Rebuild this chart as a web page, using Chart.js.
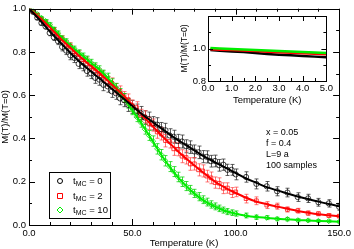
<!DOCTYPE html>
<html>
<head>
<meta charset="utf-8">
<script src="https://cdn.jsdelivr.net/npm/chart.js@4.4.1/dist/chart.umd.min.js"></script>
<style>
body { margin: 0; background: #fff; }
#wrap { position: relative; width: 354px; height: 249px; }
#main { position: absolute; left: 0; top: 0; }
#inset { position: absolute; left: 180px; top: 8px; }
</style>
</head>
<body>
<div id="wrap">
<canvas id="main" width="354" height="249"></canvas>
<canvas id="inset" width="155" height="98"></canvas>
</div>
<script>
// simulation points (temperature in K)
var temps = [0, 2, 4, 6, 8, 10, 12, 14, 16, 18, 20, 22, 24, 26, 28, 30, 32, 34, 36, 38, 40,
    42, 44, 46, 48, 50, 52, 54, 56, 58, 60, 62, 64, 66, 68, 70, 72, 74, 76, 78, 80,
    82, 84, 86, 88, 90, 92, 94, 96, 98, 100, 105, 110, 115, 120, 125, 130, 135, 140, 145, 150];

var mcZero = [1.0, 0.985, 0.958, 0.934, 0.918, 0.888, 0.868, 0.85, 0.823, 0.806, 0.784,
    0.772, 0.745, 0.735, 0.712, 0.701, 0.68, 0.672, 0.648, 0.641, 0.618,
    0.609, 0.585, 0.577, 0.555, 0.546, 0.528, 0.518, 0.497, 0.49, 0.47,
    0.464, 0.443, 0.438, 0.414, 0.408, 0.388, 0.386, 0.364, 0.36, 0.34,
    0.336, 0.316, 0.315, 0.295, 0.296, 0.276, 0.279, 0.255, 0.255, 0.234,
    0.222, 0.19, 0.179, 0.156, 0.15, 0.129, 0.123, 0.105, 0.1, 0.084];
var errZero = [0.002, 0.006, 0.008, 0.01, 0.012, 0.013, 0.015, 0.016, 0.018, 0.018, 0.02,
    0.021, 0.022, 0.022, 0.024, 0.024, 0.025, 0.026, 0.027, 0.027, 0.028,
    0.028, 0.029, 0.03, 0.03, 0.03, 0.031, 0.03, 0.031, 0.032, 0.031,
    0.032, 0.031, 0.032, 0.031, 0.03, 0.031, 0.03, 0.03, 0.029, 0.03,
    0.029, 0.028, 0.028, 0.027, 0.027, 0.027, 0.026, 0.026, 0.025, 0.025,
    0.024, 0.023, 0.022, 0.021, 0.02, 0.02, 0.019, 0.018, 0.017, 0.016];

var mcTwo = [1.0, 0.987, 0.97, 0.95, 0.934, 0.912, 0.9, 0.872, 0.86, 0.836, 0.826,
    0.8, 0.787, 0.764, 0.757, 0.73, 0.722, 0.7, 0.69, 0.664, 0.656,
    0.63, 0.618, 0.592, 0.58, 0.552, 0.543, 0.508, 0.5, 0.47, 0.462,
    0.43, 0.422, 0.39, 0.386, 0.352, 0.35, 0.318, 0.312, 0.282, 0.283,
    0.255, 0.25, 0.226, 0.218, 0.196, 0.193, 0.17, 0.171, 0.15, 0.153,
    0.122, 0.112, 0.092, 0.087, 0.072, 0.066, 0.055, 0.052, 0.044, 0.041];
var errTwo = [0.002, 0.005, 0.007, 0.009, 0.01, 0.012, 0.013, 0.014, 0.015, 0.016, 0.017,
    0.018, 0.019, 0.02, 0.02, 0.021, 0.022, 0.022, 0.023, 0.023, 0.024,
    0.024, 0.025, 0.025, 0.026, 0.026, 0.027, 0.027, 0.028, 0.028, 0.028,
    0.029, 0.029, 0.029, 0.03, 0.03, 0.03, 0.03, 0.03, 0.029, 0.029,
    0.028, 0.028, 0.027, 0.027, 0.026, 0.025, 0.025, 0.024, 0.023, 0.022,
    0.02, 0.018, 0.016, 0.014, 0.012, 0.011, 0.01, 0.009, 0.008, 0.007];

var mcTen = [1.0, 0.99, 0.975, 0.958, 0.943, 0.927, 0.905, 0.887, 0.864, 0.85, 0.828,
    0.815, 0.797, 0.782, 0.767, 0.752, 0.735, 0.72, 0.7, 0.685, 0.658,
    0.637, 0.612, 0.588, 0.56, 0.531, 0.5, 0.474, 0.443, 0.414, 0.388,
    0.352, 0.325, 0.297, 0.27, 0.247, 0.222, 0.2, 0.18, 0.163, 0.146,
    0.131, 0.117, 0.106, 0.095, 0.086, 0.077, 0.069, 0.062, 0.057, 0.053,
    0.044, 0.036, 0.034, 0.028, 0.027, 0.022, 0.021, 0.019, 0.018, 0.015];
var errTen = [0.002, 0.004, 0.005, 0.006, 0.007, 0.008, 0.009, 0.01, 0.01, 0.011, 0.012,
    0.012, 0.013, 0.013, 0.014, 0.014, 0.015, 0.016, 0.016, 0.017, 0.018,
    0.018, 0.019, 0.02, 0.02, 0.021, 0.022, 0.022, 0.023, 0.023, 0.024,
    0.024, 0.024, 0.024, 0.023, 0.023, 0.022, 0.022, 0.021, 0.02, 0.019,
    0.019, 0.018, 0.018, 0.017, 0.016, 0.015, 0.014, 0.014, 0.013, 0.012,
    0.011, 0.01, 0.009, 0.008, 0.008, 0.007, 0.006, 0.006, 0.005, 0.005];

// fitted curves
var fitTemps = [0, 5, 10, 15, 20, 25, 30, 35, 40, 45, 50, 55, 60, 65, 70, 75, 80,
    85, 90, 95, 100, 105, 110, 115, 120, 125, 130, 135, 140, 145, 150];
var fitZero = [1.0, 0.95, 0.895, 0.845, 0.795, 0.75, 0.71, 0.67, 0.63, 0.59, 0.55, 0.51, 0.475,
    0.44, 0.405, 0.375, 0.345, 0.315, 0.29, 0.265, 0.24, 0.215, 0.195, 0.175, 0.16,
    0.146, 0.132, 0.12, 0.108, 0.097, 0.087];
var fitTwo = [1.0, 0.96, 0.915, 0.865, 0.82, 0.775, 0.735, 0.695, 0.65, 0.605, 0.555, 0.505, 0.455,
    0.405, 0.36, 0.315, 0.275, 0.237, 0.2, 0.172, 0.148, 0.126, 0.108, 0.096, 0.085,
    0.075, 0.065, 0.057, 0.05, 0.045, 0.04];
var fitTen = [1.0, 0.965, 0.925, 0.875, 0.83, 0.79, 0.75, 0.71, 0.66, 0.6, 0.53, 0.46, 0.385,
    0.31, 0.245, 0.19, 0.145, 0.11, 0.085, 0.065, 0.052, 0.043, 0.037, 0.033, 0.029,
    0.026, 0.023, 0.021, 0.019, 0.017, 0.015];

// inset: low temperature part
var lowTemps = [0.1, 0.5, 1.0, 1.5, 2.0, 2.5, 3.0, 3.5, 4.0, 4.5, 5.0];
var lowZero = [0.99, 0.986, 0.982, 0.978, 0.973, 0.966, 0.962, 0.958, 0.954, 0.95, 0.946];
var lowTwo = [0.996, 0.993, 0.99, 0.987, 0.984, 0.98, 0.977, 0.974, 0.97, 0.967, 0.964];
var lowTen = [1.003, 1.0, 0.997, 0.994, 0.991, 0.988, 0.985, 0.982, 0.979, 0.976, 0.972];

var legendLabels = ['0', '2', '10'];
var notes = ['x = 0.05', 'f = 0.4', 'L=9 a', '100 samples'];

var FONT = "'Liberation Sans', Arial, sans-serif";

function pairs(xs, ys) {
    return xs.map(function (x, i) { return { x: x, y: ys[i] }; });
}

function pointSet(label, ys, errs, color, barColor, style) {
    return {
        label: label,
        data: pairs(temps, ys),
        errors: errs,
        barColor: barColor,
        showLine: false,
        pointStyle: style,
        pointRadius: 2.6,
        pointBorderWidth: 1,
        pointBorderColor: color,
        pointBackgroundColor: 'rgba(0,0,0,0)',
        order: 2
    };
}

function fitSet(ys, color) {
    return {
        data: pairs(fitTemps, ys),
        showLine: true,
        borderColor: color,
        borderWidth: 2,
        pointRadius: 0,
        cubicInterpolationMode: 'monotone',
        order: 1
    };
}

// error bars drawn under the markers
var errorBars = {
    id: 'errorBars',
    beforeDatasetsDraw: function (chart) {
        var ctx = chart.ctx, xs = chart.scales.x, ys = chart.scales.y, a = chart.chartArea;
        ctx.save();
        ctx.beginPath();
        ctx.rect(a.left, a.top, a.right - a.left, a.bottom - a.top);
        ctx.clip();
        ctx.lineWidth = 1;
        chart.data.datasets.forEach(function (ds) {
            if (!ds.errors) return;
            ctx.strokeStyle = ds.barColor;
            ctx.beginPath();
            ds.data.forEach(function (p, i) {
                var px = Math.round(xs.getPixelForValue(p.x)) + 0.5;
                var top = ys.getPixelForValue(p.y + ds.errors[i]);
                var bot = ys.getPixelForValue(p.y - ds.errors[i]);
                ctx.moveTo(px, top); ctx.lineTo(px, bot);
                ctx.moveTo(px - 2, top); ctx.lineTo(px + 2, top);
                ctx.moveTo(px - 2, bot); ctx.lineTo(px + 2, bot);
            });
            ctx.stroke();
        });
        ctx.restore();
    }
};

// box with inward ticks on all four sides
function isMajor(v, step) {
    return Math.abs(v / step - Math.round(v / step)) < 1e-6;
}

var frame = {
    id: 'frame',
    afterDatasetsDraw: function (chart, args, opts) {
        var ctx = chart.ctx, a = chart.chartArea;
        var xs = chart.scales.x, ys = chart.scales.y;
        ctx.save();
        ctx.strokeStyle = '#000';
        ctx.lineWidth = 1;
        ctx.strokeRect(Math.round(a.left) + 0.5, Math.round(a.top) + 0.5,
            Math.round(a.right - a.left), Math.round(a.bottom - a.top));
        ctx.beginPath();
        xs.ticks.forEach(function (t) {
            var px = Math.round(xs.getPixelForValue(t.value)) + 0.5;
            var len = isMajor(t.value, opts.xMajor) ? opts.major : opts.minor;
            ctx.moveTo(px, a.bottom); ctx.lineTo(px, a.bottom - len);
            ctx.moveTo(px, a.top); ctx.lineTo(px, a.top + len);
        });
        ys.ticks.forEach(function (t) {
            var py = Math.round(ys.getPixelForValue(t.value)) + 0.5;
            var len = isMajor(t.value, opts.yMajor) ? opts.major : opts.minor;
            ctx.moveTo(a.left, py); ctx.lineTo(a.left + len, py);
            ctx.moveTo(a.right, py); ctx.lineTo(a.right - len, py);
        });
        ctx.stroke();
        ctx.restore();
    }
};

// legend box and the parameter notes
var extras = {
    id: 'extras',
    afterDraw: function (chart) {
        var ctx = chart.ctx;
        ctx.save();
        ctx.fillStyle = '#fff';
        ctx.fillRect(49, 172, 61, 46);
        ctx.strokeStyle = '#000';
        ctx.lineWidth = 1;
        ctx.strokeRect(49.5, 172.5, 61, 46);
        var rows = [181, 196, 210];
        var colors = ['#000', '#ff0000', '#00ee00'];
        ctx.lineWidth = 1;
        rows.forEach(function (y, i) {
            ctx.strokeStyle = colors[i];
            ctx.beginPath();
            if (i === 0) {
                ctx.arc(60, y, 2.5, 0, Math.PI * 2);
            } else if (i === 1) {
                ctx.rect(57.5, y - 2.5, 5, 5);
            } else {
                ctx.moveTo(60, y - 3); ctx.lineTo(63, y); ctx.lineTo(60, y + 3); ctx.lineTo(57, y); ctx.closePath();
            }
            ctx.stroke();
            ctx.fillStyle = '#000';
            ctx.textBaseline = 'middle';
            ctx.textAlign = 'left';
            ctx.font = '9.5px ' + FONT;
            ctx.fillText('t', 73, y);
            var x = 73 + ctx.measureText('t').width;
            ctx.font = '7px ' + FONT;
            ctx.fillText('MC', x, y + 3);
            x += ctx.measureText('MC').width;
            ctx.font = '9.5px ' + FONT;
            ctx.fillText(' = ' + legendLabels[i], x, y);
        });
        ctx.font = '9px ' + FONT;
        notes.forEach(function (s, i) {
            ctx.fillText(s, 266, 133 + i * 11);
        });
        ctx.restore();
    }
};

new Chart(document.getElementById('main').getContext('2d'), {
    type: 'scatter',
    data: {
        datasets: [
            fitSet(fitZero, '#000'),
            fitSet(fitTwo, '#ff0000'),
            fitSet(fitTen, '#00ee00'),
            pointSet('tMC = 0', mcZero, errZero, 'rgba(0,0,0,0.75)', 'rgba(40,40,40,0.75)', 'circle'),
            pointSet('tMC = 2', mcTwo, errTwo, 'rgba(255,0,0,0.75)', 'rgba(255,60,60,0.7)', 'rect'),
            pointSet('tMC = 10', mcTen, errTen, 'rgba(0,220,0,0.8)', 'rgba(0,210,0,0.75)', 'rectRot')
        ]
    },
    options: {
        responsive: false,
        animation: false,
        devicePixelRatio: 1,
        layout: { padding: { top: 5, right: 13, left: 0, bottom: 0 } },
        plugins: {
            legend: { display: false },
            tooltip: { enabled: false },
            frame: { xMajor: 50, yMajor: 0.2, major: 6, minor: 3 }
        },
        scales: {
            x: {
                type: 'linear', min: 0, max: 150,
                afterFit: function (s) { s.height = 24; },
                grid: { display: false, drawTicks: false },
                border: { display: false },
                ticks: {
                    stepSize: 10, autoSkip: false, maxRotation: 0, padding: 3,
                    color: '#000', font: { family: FONT, size: 9.5 },
                    callback: function (v) { return isMajor(v, 50) ? v.toFixed(1) : ''; }
                },
                title: { display: true, text: 'Temperature (K)', color: '#000', padding: 0, font: { family: FONT, size: 9.5 } }
            },
            y: {
                type: 'linear', min: 0, max: 1,
                afterFit: function (s) { s.width = 29; },
                grid: { display: false, drawTicks: false },
                border: { display: false },
                ticks: {
                    stepSize: 0.1, autoSkip: false, padding: 3,
                    color: '#000', font: { family: FONT, size: 9.5 },
                    callback: function (v) { return isMajor(v, 0.2) ? v.toFixed(1) : ''; }
                },
                title: { display: true, text: 'M(T)/M(T=0)', color: '#000', padding: 0, font: { family: FONT, size: 9.5 } }
            }
        }
    },
    plugins: [errorBars, frame, extras]
});

function lowSet(ys, color, order) {
    return {
        data: pairs(lowTemps, ys),
        showLine: true,
        borderColor: color,
        borderWidth: 2.5,
        pointRadius: 0,
        order: order
    };
}

new Chart(document.getElementById('inset').getContext('2d'), {
    type: 'scatter',
    data: {
        datasets: [
            lowSet(lowZero, '#000', 3),
            lowSet(lowTwo, '#ff0000', 2),
            lowSet(lowTen, '#00ee00', 1)
        ]
    },
    options: {
        responsive: false,
        animation: false,
        devicePixelRatio: 1,
        layout: { padding: { top: 8, right: 7, left: 0, bottom: 0 } },
        plugins: {
            legend: { display: false },
            tooltip: { enabled: false },
            frame: { xMajor: 1, yMajor: 0.2, major: 5, minor: 3 }
        },
        scales: {
            x: {
                type: 'linear', min: 0, max: 5,
                afterFit: function (s) { s.height = 25; },
                grid: { display: false, drawTicks: false },
                border: { display: false },
                ticks: {
                    stepSize: 0.5, autoSkip: false, maxRotation: 0, padding: 2,
                    color: '#000', font: { family: FONT, size: 9.5 },
                    callback: function (v) { return isMajor(v, 1) ? v.toFixed(1) : ''; }
                },
                title: { display: true, text: 'Temperature (K)', color: '#000', padding: 0, font: { family: FONT, size: 9.5 } }
            },
            y: {
                type: 'linear', min: 0.8, max: 1.2,
                afterFit: function (s) { s.width = 28; },
                grid: { display: false, drawTicks: false },
                border: { display: false },
                ticks: {
                    stepSize: 0.1, autoSkip: false, padding: 2,
                    color: '#000', font: { family: FONT, size: 9.5 },
                    callback: function (v) { return (Math.abs(v - 0.8) < 1e-6 || Math.abs(v - 1.0) < 1e-6) ? v.toFixed(1) : ''; }
                },
                title: { display: true, text: 'M(T)/M(T=0)', color: '#000', padding: 0, font: { family: FONT, size: 8.5 } }
            }
        }
    },
    plugins: [frame]
});
</script>
</body>
</html>
